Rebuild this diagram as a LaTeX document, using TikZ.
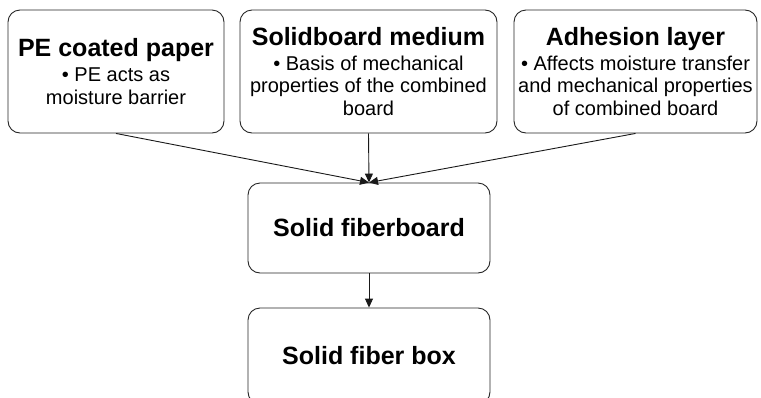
\documentclass[tikz,border=0pt]{standalone}
\usepackage{fontspec}
\setmainfont{Liberation Sans}
\usetikzlibrary{arrows.meta}
\newcommand{\ttl}[1]{{\fontsize{25}{27}\selectfont\bfseries #1}}
\begin{document}
\begin{tikzpicture}[x=1pt,y=-1pt,
  box/.style={draw=black!85, line width=0.9pt, rounded corners=12pt, align=center,
    inner sep=0pt, font=\fontsize{20}{22.5}\selectfont},
  conn/.style={draw=black!90, line width=0.9pt, -{Triangle[length=9pt,width=8pt]}}]
\useasboundingbox (0,0) rectangle (761,397);
\node[box, minimum width=216pt, minimum height=123pt] (pe) at (116,71.5)
  {\ttl{PE coated paper}\\[2.5pt]\textbullet{} PE acts as\\moisture barrier};
\node[box, minimum width=257pt, minimum height=123pt] (sm) at (368.5,71.5)
  {\ttl{Solidboard medium}\\[2.5pt]\textbullet{} Basis of mechanical\\properties of the combined\\board};
\node[box, minimum width=243pt, minimum height=123pt] (ad) at (635.5,71.5)
  {\ttl{Adhesion layer}\\[2.5pt]\textbullet{} Affects moisture transfer\\and mechanical properties\\of combined board};
\node[box, minimum width=242pt, minimum height=90pt] (fb) at (369,228)
  {\ttl{Solid fiberboard}};
\node[box, minimum width=242pt, minimum height=96pt] (bx) at (369,356)
  {\ttl{Solid fiber box}};
\draw[conn] (pe.south) -- (fb.north);
\draw[conn] (sm.south) -- (fb.north);
\draw[conn] (ad.south) -- (fb.north);
\draw[conn] (fb.south) -- (bx.north);
\end{tikzpicture}
\end{document}
